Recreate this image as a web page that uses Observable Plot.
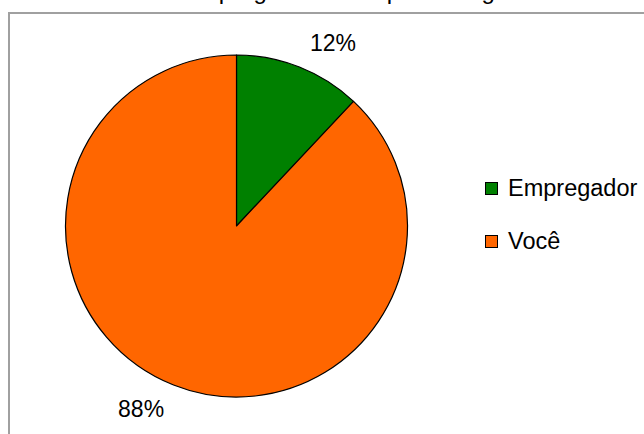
<!DOCTYPE html>
<html><head><meta charset="utf-8">
<script src="https://cdn.jsdelivr.net/npm/d3@7"></script>
<script src="https://cdn.jsdelivr.net/npm/@observablehq/plot@0.6"></script>
<style>body{margin:0;background:#fff;overflow:hidden;} svg{display:block;}</style>
</head><body><div id="chart"></div>
<script>
const categories = ["Empregador", "Você"];
const values = [12, 88];
const labels = ["12%", "88%"];
const colors = ["#008000", "#ff6600"];
const title = "Parcela do empregador e sua parte no gasto";

const data = categories.map((c, i) => ({category: c, value: values[i], label: labels[i]}));
const arcs = d3.pie().sort(null).value(d => d.value)(data);
const color = Plot.scale({color: {type: "ordinal", domain: categories, range: colors}});
const labelData = arcs.map(a => {
  const m = (a.startAngle + a.endAngle) / 2 + 0.105;
  return {label: a.data.label, x: 1.21 * Math.sin(m), y: 1.21 * Math.cos(m)};
});

const font = "Arial, 'Liberation Sans', sans-serif";

function borderMark() {
  const g = d3.create("svg:g");
  g.append("rect").attr("x", 9).attr("y", 13).attr("width", 700).attr("height", 500)
    .attr("fill", "none").attr("stroke", "#a0a0a0").attr("stroke-width", 2);
  g.append("text").attr("x", 64).attr("y", -1).attr("font-size", 24).attr("font-family", font)
    .attr("text-anchor", "start").attr("fill", "#000").text(title);
  return g.node();
}

function pieMark(index, scales) {
  const cx = scales.x(0), cy = scales.y(0), r = scales.x(1) - scales.x(0);
  const g = d3.create("svg:g").attr("transform", `translate(${cx},${cy})`);
  const arc = d3.arc().innerRadius(0).outerRadius(r);
  g.selectAll("path").data(arcs).join("path")
    .attr("d", arc)
    .attr("fill", d => color.apply(d.data.category))
    .attr("stroke", "#000").attr("stroke-width", 1.2).attr("stroke-linejoin", "round");
  return g.node();
}

function legendMark() {
  const g = d3.create("svg:g");
  const item = g.selectAll("g").data(categories).join("g")
    .attr("transform", (d, i) => `translate(485,${182 + i * 53})`);
  item.append("rect").attr("x", 0.5).attr("y", 0.5).attr("width", 12).attr("height", 12)
    .attr("fill", d => color.apply(d)).attr("stroke", "#000").attr("stroke-width", 1);
  item.append("text").attr("x", 23).attr("y", 14).attr("font-size", 23.5).attr("font-family", font)
    .attr("text-anchor", "start").attr("fill", "#000").text(d => d);
  return g.node();
}

const chart = Plot.plot({
  width: 644,
  height: 434,
  margin: 0,
  x: {domain: [-1, 1], range: [65.5, 407.5], axis: null},
  y: {domain: [-1, 1], range: [397, 55], axis: null},
  style: {fontFamily: font, background: "#fff", overflow: "hidden"},
  marks: [
    borderMark,
    pieMark,
    Plot.text(labelData, {x: "x", y: "y", text: "label", fontSize: 23, fill: "#000"}),
    legendMark
  ]
});
document.getElementById("chart").appendChild(chart);
</script>
</body></html>
